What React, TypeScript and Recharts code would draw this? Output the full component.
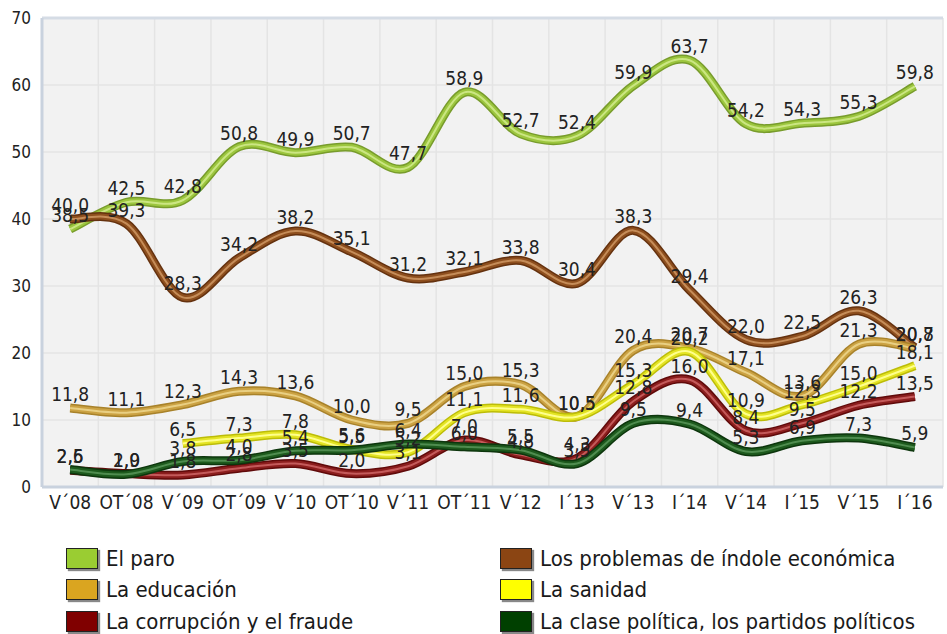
import React from "react";
import { CartesianGrid, LabelList, Line, LineChart, ReferenceLine, XAxis, YAxis } from "recharts";

const categories = ["V´08", "OT´08", "V´09", "OT´09", "V´10", "OT´10", "V´11", "OT´11", "V´12", "I´13", "V´13", "I´14", "V´14", "I´15", "V´15", "I´16"];
const paro = [38.5, 42.5, 42.8, 50.8, 49.9, 50.7, 47.7, 58.9, 52.7, 52.4, 59.9, 63.7, 54.2, 54.3, 55.3, 59.8];
const economia = [40.0, 39.3, 28.3, 34.2, 38.2, 35.1, 31.2, 32.1, 33.8, 30.4, 38.3, 29.4, 22.0, 22.5, 26.3, 20.8];
const educacion = [11.8, 11.1, 12.3, 14.3, 13.6, 10.0, 9.5, 15.0, 15.3, 10.5, 20.4, 20.7, 17.1, 13.6, 21.3, 20.7];
const sanidad = [null, null, 6.5, 7.3, 7.8, 5.6, 5.2, 11.1, 11.6, 10.5, 15.3, 20.2, 10.9, 12.3, 15.0, 18.1];
const corrupcion = [2.5, 2.0, 1.8, 2.8, 3.5, 2.0, 3.1, 7.0, 4.8, 4.3, 12.8, 16.0, 8.4, 9.5, 12.2, 13.5];
const politica = [2.6, 1.9, 3.8, 4.0, 5.4, 5.5, 6.4, 6.0, 5.5, 3.5, 9.5, 9.4, 5.3, 6.9, 7.3, 5.9];
const yTicks = [0, 10, 20, 30, 40, 50, 60, 70];

const FONT = "'DejaVu Sans Condensed', 'DejaVu Sans', sans-serif";

const series = [
  { key: "paro", name: "El paro", fill: "#9acd32", outer: "#789c2c", mid: "#9cc63e", hi: "#cbe682" },
  { key: "economia", name: "Los problemas de índole económica", fill: "#8b4513", outer: "#65320f", mid: "#8e4f1e", hi: "#c58c58" },
  { key: "educacion", name: "La educación", fill: "#daa520", outer: "#a8822a", mid: "#cba243", hi: "#e9cf82" },
  { key: "sanidad", name: "La sanidad", fill: "#ffff00", outer: "#bcbc08", mid: "#e4e424", hi: "#ffff8c" },
  { key: "corrupcion", name: "La corrupción y el fraude", fill: "#800000", outer: "#600a0a", mid: "#8c1e1e", hi: "#c45a5a" },
  { key: "politica", name: "La clase política, los partidos políticos", fill: "#004000", outer: "#0d360d", mid: "#1d5a1d", hi: "#4f8c4f" },
];

const data = categories.map((c, i) => ({
  i,
  paro: paro[i],
  economia: economia[i],
  educacion: educacion[i],
  sanidad: sanidad[i],
  corrupcion: corrupcion[i],
  politica: politica[i],
}));

const fmt = (v: any) => (v == null ? "" : Number(v).toFixed(1).replace(".", ","));

// excel-like smoothing (catmull-rom through the points)
function smooth(context: any) {
  let pts: number[][] = [];
  return {
    areaStart() {},
    areaEnd() {},
    lineStart() {
      pts = [];
    },
    point(x: number, y: number) {
      pts.push([+x, +y]);
    },
    lineEnd() {
      const n = pts.length;
      if (!n) return;
      context.moveTo(pts[0][0], pts[0][1]);
      const k = 1 / 6;
      for (let j = 0; j < n - 1; j++) {
        const p0 = pts[j - 1] || pts[j];
        const p1 = pts[j];
        const p2 = pts[j + 1];
        const p3 = pts[j + 2] || p2;
        context.bezierCurveTo(
          p1[0] + (p2[0] - p0[0]) * k,
          p1[1] + (p2[1] - p0[1]) * k,
          p2[0] - (p3[0] - p1[0]) * k,
          p2[1] - (p3[1] - p1[1]) * k,
          p2[0],
          p2[1]
        );
      }
    },
  };
}

const gridTicks = categories.slice(1).map((c, i) => i + 0.5);

export default function App() {
  return (
    <div style={{ position: "absolute", left: 0, top: 0, width: 947, height: 634, background: "#fff", fontFamily: FONT }}>
      <LineChart width={947} height={520} data={data} margin={{ top: 18, right: 4, left: 0, bottom: 0 }}>
        <CartesianGrid xAxisId="grid" stroke="#e4e4e4" strokeWidth={1.5} fill="#f2f2f2" />
        <XAxis
          dataKey="i"
          type="number"
          domain={[-0.5, 15.5]}
          ticks={categories.map((c, i) => i)}
          tickFormatter={(v: number) => categories[v]}
          interval={0}
          height={33}
          tickLine={false}
          tickSize={0}
          tickMargin={9}
          axisLine={{ stroke: "#c9d2de", strokeWidth: 3 }}
          tick={{ fill: "#222", fontSize: 19, fontFamily: FONT }}
        />
        <XAxis xAxisId="grid" dataKey="i" type="number" domain={[-0.5, 15.5]} ticks={gridTicks} hide />
        <YAxis
          domain={[0, 70]}
          ticks={yTicks}
          width={42}
          tickLine={false}
          tickSize={0}
          tickMargin={11}
          axisLine={{ stroke: "#c9d2de", strokeWidth: 3 }}
          tick={{ fill: "#222", fontSize: 17, fontFamily: FONT }}
        />
        <ReferenceLine y={70} stroke="#d5dce5" strokeWidth={3} />
        {series.map((s) => [
          <Line key={s.key + "o"} dataKey={s.key} type={smooth as any} stroke={s.outer} strokeWidth={9} dot={false} activeDot={false} isAnimationActive={false} />,
          <Line key={s.key + "m"} dataKey={s.key} type={smooth as any} stroke={s.mid} strokeWidth={6} dot={false} activeDot={false} isAnimationActive={false} />,
          <Line key={s.key + "h"} dataKey={s.key} type={smooth as any} stroke={s.hi} strokeWidth={2} dot={false} activeDot={false} isAnimationActive={false}>
            <LabelList dataKey={s.key} position="top" offset={7} formatter={fmt} fill="#222" fontSize={19} fontFamily={FONT} />
          </Line>,
        ])}
      </LineChart>
      <div
        style={{
          position: "absolute",
          left: 66,
          top: 546,
          display: "grid",
          gridTemplateColumns: "434px 440px",
          rowGap: 7.5,
          fontSize: 22,
          color: "#1a1a1a",
        }}
      >
        {series.map((s) => (
          <div key={s.key} style={{ display: "flex", alignItems: "center", height: 24, whiteSpace: "nowrap" }}>
            <span
              style={{
                display: "inline-block",
                width: 30,
                height: 19,
                background: s.fill,
                border: "1px solid #222",
                boxShadow: "2px 2px 1px #888",
                marginRight: 8,
              }}
            />
            <span>{s.name}</span>
          </div>
        ))}
      </div>
    </div>
  );
}
